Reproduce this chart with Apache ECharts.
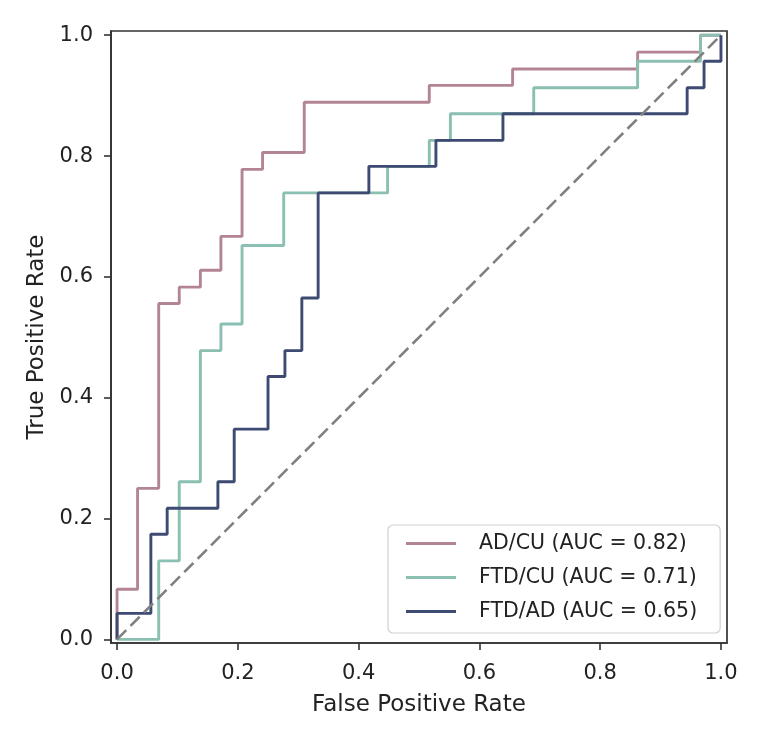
<!DOCTYPE html>
<html>
<head>
<meta charset="utf-8">
<script src="https://cdn.jsdelivr.net/npm/echarts@6/dist/echarts.min.js"></script>
<style>
  html, body { margin: 0; padding: 0; background: #fff; }
  #roc { width: 759px; height: 731px; }
</style>
</head>
<body>
<div id="roc"></div>
<script>
  // ROC points (fpr / tpr)
  var adcuFpr = [0, 0, 0.034, 0.034, 0.069, 0.069, 0.103, 0.103, 0.138, 0.138, 0.172, 0.172, 0.207, 0.207, 0.241, 0.241, 0.310, 0.310, 0.517, 0.517, 0.655, 0.655, 0.862, 0.862, 0.966, 0.966, 1];
  var adcuTpr = [0, 0.083, 0.083, 0.250, 0.250, 0.556, 0.556, 0.583, 0.583, 0.611, 0.611, 0.667, 0.667, 0.778, 0.778, 0.806, 0.806, 0.889, 0.889, 0.917, 0.917, 0.944, 0.944, 0.972, 0.972, 1, 1];

  var ftdcuFpr = [0, 0.069, 0.069, 0.103, 0.103, 0.138, 0.138, 0.172, 0.172, 0.207, 0.207, 0.276, 0.276, 0.448, 0.448, 0.517, 0.517, 0.552, 0.552, 0.690, 0.690, 0.862, 0.862, 0.966, 0.966, 1];
  var ftdcuTpr = [0, 0, 0.130, 0.130, 0.261, 0.261, 0.478, 0.478, 0.522, 0.522, 0.652, 0.652, 0.739, 0.739, 0.783, 0.783, 0.826, 0.826, 0.870, 0.870, 0.913, 0.913, 0.957, 0.957, 1, 1];

  var ftdadFpr = [0, 0, 0.056, 0.056, 0.083, 0.083, 0.167, 0.167, 0.194, 0.194, 0.250, 0.250, 0.278, 0.278, 0.306, 0.306, 0.333, 0.333, 0.417, 0.417, 0.528, 0.528, 0.639, 0.639, 0.944, 0.944, 0.972, 0.972, 1, 1];
  var ftdadTpr = [0, 0.043, 0.043, 0.174, 0.174, 0.217, 0.217, 0.261, 0.261, 0.348, 0.348, 0.435, 0.435, 0.478, 0.478, 0.565, 0.565, 0.739, 0.739, 0.783, 0.783, 0.826, 0.826, 0.870, 0.870, 0.913, 0.913, 0.957, 0.957, 1];

  var chanceX = [0, 1];
  var chanceY = [0, 1];

  var seriesNames = ['AD/CU (AUC = 0.82)', 'FTD/CU (AUC = 0.71)', 'FTD/AD (AUC = 0.65)'];
  var tickValues = [0, 0.2, 0.4, 0.6, 0.8, 1.0];

  function pairs(xs, ys) {
    var out = [];
    for (var i = 0; i < xs.length; i++) out.push([xs[i], ys[i]]);
    return out;
  }

  var font = 'DejaVu Sans';
  var axisCol = '#333';

  function axis(min, max, labelMargin) {
    return {
      type: 'value',
      min: min,
      max: max,
      splitLine: { show: false },
      axisLine: { show: true, onZero: false, lineStyle: { color: axisCol, width: 1.7 } },
      axisTick: {
        show: true, inside: false, length: 7,
        customValues: tickValues,
        lineStyle: { color: axisCol, width: 1.6 }
      },
      axisLabel: {
        customValues: tickValues,
        margin: labelMargin,
        fontFamily: font,
        fontSize: 21,
        color: '#222',
        formatter: function (v) { return v.toFixed(1); }
      },
      nameLocation: 'middle',
      nameTextStyle: { fontFamily: font, fontSize: 23, color: '#222' }
    };
  }

  var xAxis = axis(-0.01, 1.01, 20);
  xAxis.name = 'False Positive Rate';
  xAxis.nameGap = 51;
  var yAxis = axis(-0.006, 1.007, 18);
  yAxis.name = 'True Positive Rate';
  yAxis.nameGap = 62;

  function rocLine(name, xs, ys, color) {
    return {
      name: name,
      type: 'line',
      data: pairs(xs, ys),
      symbol: 'none',
      lineStyle: { color: color, width: 2.9 },
      itemStyle: { color: color },
      animation: false
    };
  }

  var chart = echarts.init(document.getElementById('roc'));
  chart.setOption({
    animation: false,
    grid: {
      left: 111, top: 31, width: 616, height: 612,
      show: true, borderColor: axisCol, borderWidth: 1.7, backgroundColor: '#fff'
    },
    xAxis: xAxis,
    yAxis: yAxis,
    legend: {
      data: seriesNames,
      orient: 'vertical',
      left: 388,
      top: 525,
      icon: 'rect',
      itemWidth: 50,
      itemHeight: 3,
      itemGap: 13,
      padding: [8, 23, 11, 18],
      backgroundColor: '#fff',
      borderColor: '#d0d0d0',
      borderWidth: 1.2,
      borderRadius: 5,
      textStyle: { fontFamily: font, fontSize: 20.5, color: '#222', lineHeight: 21, padding: [0, 0, 0, 18] }
    },
    series: [
      rocLine(seriesNames[0], adcuFpr, adcuTpr, '#b38594'),
      rocLine(seriesNames[1], ftdcuFpr, ftdcuTpr, '#8abfb1'),
      rocLine(seriesNames[2], ftdadFpr, ftdadTpr, '#3d4a72'),
      {
        name: 'chance',
        type: 'line',
        data: pairs(chanceX, chanceY),
        symbol: 'none',
        lineStyle: { color: '#808080', width: 2.6, type: [13, 6] },
        z: 3
      }
    ]
  });
</script>
</body>
</html>
